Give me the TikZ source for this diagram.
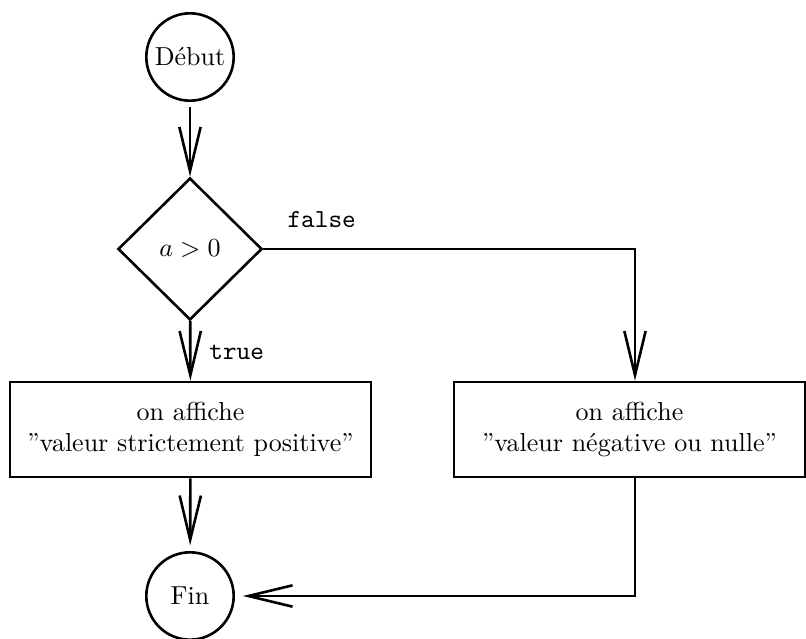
\documentclass[tikz,border=0pt]{standalone}
\usetikzlibrary{shapes.geometric,arrows.meta}
\begin{document}
\begin{tikzpicture}[x=0.3846pt, y=-0.3846pt,
  every node/.style={font=\normalsize},
  terminal/.style={draw, circle, line width=1pt, inner sep=1pt, minimum size=33.6pt},
  decision/.style={draw, diamond, line width=1pt, inner sep=0pt, aspect=1, minimum width=55.4pt, minimum height=54.6pt},
  action/.style={draw, rectangle, line width=1pt, align=center, minimum height=36.5pt, inner sep=0pt},
  branchlabel/.style={font=\ttfamily},
  arr/.style={line width=1pt, -{Straight Barb[length=17pt, width=8.2pt, line width=1pt]}}]
  \useasboundingbox (0,0) rectangle (806,639);

  % nodes of the flowchart
  \node[terminal] (debut) at (190,57) {Début};
  \node[decision] (test) at (190,249) {$a>0$};
  \node[action, minimum width=138.8pt] (pos) at (190.5,429.5)
    {on affiche\\”valeur strictement positive”};
  \node[action, minimum width=135pt] (neg) at (629.5,429.5)
    {on affiche\\”valeur négative ou nulle”};
  \node[terminal] (fin) at (190,596) {Fin};

  % vertical lane of the "false" branch
  \coordinate (lane) at (635,0);

  % branch labels
  \node[branchlabel] (lfalse) at (321.7,220) {false};
  \node[branchlabel] (ltrue) at (236.7,352) {true};

  % connectors
  \draw[arr, shorten <=2pt] (debut) -- (test);
  \draw[arr] (test) -- (pos);
  \draw[arr] (test.east) -| (neg.north -| lane);
  \draw[arr, shorten >=2.2pt] (pos) -- (fin);
  \draw[arr, shorten >=3pt] (neg.south -| lane) |- (fin.east);
\end{tikzpicture}
\end{document}
